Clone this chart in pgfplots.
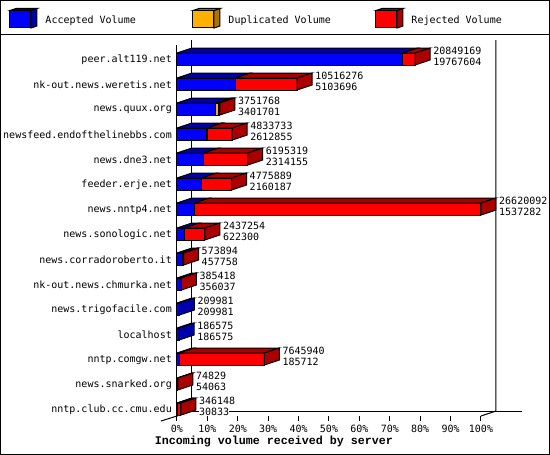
\documentclass[border=0pt]{standalone}
\usepackage{fontspec}
\usepackage{pgfplots}
\pgfplotsset{compat=1.18}
\setmainfont{DejaVu Sans Mono}
\newfontfamily\titlefont{Liberation Mono}

\definecolor{acc}{HTML}{0000FF}
\definecolor{accd}{HTML}{0000AA}
\definecolor{dup}{HTML}{FFB000}
\definecolor{dupd}{HTML}{AA7500}
\definecolor{rej}{HTML}{FF0000}
\definecolor{rejd}{HTML}{AA0000}

\newcommand\sz{\fontsize{10}{12}\selectfont}
% x is in MB, 1px = 26.620092/304 MB; bar depth is 15px right, 5px up
\def\dx{1.31349}
\def\dy{0.2}
\def\hh{0.24}

\newcommand\face[2]{%
  \edef\temp{\noexpand\addplot[draw=black,line width=1pt,line join=miter,fill=#1,mark=none,forget plot] coordinates {#2};}\temp}

% i, from, to, front colour, dark colour (bytes)
\newcommand\seg[5]{%
  \face{#5}{(\fpeval{#2/1e6},\fpeval{#1-\hh}) (\fpeval{#3/1e6},\fpeval{#1-\hh})
    (\fpeval{#3/1e6+\dx},\fpeval{#1-\hh-\dy}) (\fpeval{#2/1e6+\dx},\fpeval{#1-\hh-\dy}) (\fpeval{#2/1e6},\fpeval{#1-\hh})}%
  \face{#4}{(\fpeval{#2/1e6},\fpeval{#1-\hh}) (\fpeval{#3/1e6},\fpeval{#1-\hh})
    (\fpeval{#3/1e6},\fpeval{#1+\hh}) (\fpeval{#2/1e6},\fpeval{#1+\hh}) (\fpeval{#2/1e6},\fpeval{#1-\hh})}}

% end face of a bar: i, total, dark colour
\newcommand\sideface[3]{%
  \face{#3}{(\fpeval{#2/1e6},\fpeval{#1-\hh}) (\fpeval{#2/1e6+\dx},\fpeval{#1-\hh-\dy})
    (\fpeval{#2/1e6+\dx},\fpeval{#1+\hh-\dy}) (\fpeval{#2/1e6},\fpeval{#1+\hh}) (\fpeval{#2/1e6},\fpeval{#1-\hh})}}

% i, total, accepted, duplicated
\newcommand\server[4]{%
  \seg{#1}{0}{#3}{acc}{accd}%
  \ifnum#4>0 \seg{#1}{#3}{\the\numexpr#3+#4\relax}{dup}{dupd}\fi
  \ifnum\numexpr#2-#3-#4\relax>0
    \seg{#1}{\the\numexpr#3+#4\relax}{#2}{rej}{rejd}%
    \sideface{#1}{#2}{rejd}%
  \else
    \sideface{#1}{#2}{accd}%
  \fi
  \node[anchor=west,inner sep=0pt,fill=white,font=\sz] at (axis cs:\fpeval{#2/1e6+1.576},\fpeval{#1-0.32}) {#2};
  \node[anchor=west,inner sep=0pt,fill=white,font=\sz] at (axis cs:\fpeval{#2/1e6+1.576},\fpeval{#1+0.12}) {#3};}

% legend swatch, pixel coordinates
\newcommand\swatch[3]{%
  \filldraw[fill=#3] (#1+21,10.5) -- (#1+27,8.5) -- (#1+27,26) -- (#1+21,28) -- cycle;
  \filldraw[fill=#3] (#1,10.5) -- (#1+6,8.5) -- (#1+27,8.5) -- (#1+21,10.5) -- cycle;
  \filldraw[fill=#2] (#1,10.5) rectangle (#1+21,28);}

\begin{document}
\begin{tikzpicture}
\begin{axis}[
    scale only axis,
    width=304pt, height=371pt,
    xmin=0, xmax=26.620092,
    ymin=-0.56, ymax=14.28,
    y dir=reverse,
    clip=false,
    axis x line*=bottom,
    axis y line*=left,
    axis line style={-, line width=1pt, black},
    x axis line style={draw=none},
    tick align=outside,
    major tick length=5pt,
    xtick style={draw=black, line width=1pt},
    ytick style={draw=none},
    xtick={0,2.6620092,5.3240184,7.9860276,10.6480368,13.310046,15.9720552,18.6340644,21.2960736,23.9580828,26.620092},
    xticklabels={0\%,10\%,20\%,30\%,40\%,50\%,60\%,70\%,80\%,90\%,100\%},
    xticklabel style={font=\sz, inner sep=0pt, yshift=-4pt},
    ytick={0,...,14},
    yticklabels={peer.alt119.net,nk-out.news.weretis.net,news.quux.org,newsfeed.endofthelinebbs.com,news.dne3.net,feeder.erje.net,news.nntp4.net,news.sonologic.net,news.corradoroberto.it,nk-out.news.chmurka.net,news.trigofacile.com,localhost,nntp.comgw.net,news.snarked.org,nntp.club.cc.cmu.edu},
    yticklabel style={font=\sz, inner sep=0pt, yshift=-1pt},
    xlabel={Incoming volume received by server},
    xlabel style={at={(axis description cs:0.319,-0.0701)}, anchor=center, inner sep=0pt,
      font=\titlefont\bfseries\fontsize{11.67}{13}\selectfont},
]
% back wall and floor
\addplot[black, line width=1pt, mark=none, forget plot] coordinates {(1.31349,-0.76) (1.31349,14.08) (30.21,14.08)};
\addplot[black, line width=1pt, mark=none, forget plot] coordinates {(27.93359,-0.76) (27.93359,14.08) (26.620092,14.28)};
\addplot[black, line width=1pt, mark=none, forget plot] coordinates {(-1.401,14.48) (0,14.28) (1.31349,14.08)};

\server{0}{20849169}{19767604}{0}
\server{1}{10516276}{5103696}{0}
\server{2}{3751768}{3401701}{200000}
\server{3}{4833733}{2612855}{30000}
\server{4}{6195319}{2314155}{0}
\server{5}{4775889}{2160187}{0}
\server{6}{26620092}{1537282}{0}
\server{7}{2437254}{622300}{0}
\server{8}{573894}{457758}{0}
\server{9}{385418}{356037}{0}
\server{10}{209981}{209981}{0}
\server{11}{186575}{186575}{0}
\server{12}{7645940}{185712}{0}
\server{13}{74829}{54063}{0}
\server{14}{346148}{30833}{0}
\end{axis}

% frame and legend in image pixels
\begin{scope}[shift={(-177pt,416pt)}, x=1pt, y=-1pt, line width=1pt]
  \draw (0.5,0.5) rectangle (549.5,454.5);
  \draw (0,35) -- (550,35);
  \swatch{10}{acc}{accd}
  \swatch{193}{dup}{dupd}
  \swatch{376}{rej}{rejd}
  \node[anchor=west,inner sep=0pt,font=\sz] at (45,21) {Accepted Volume};
  \node[anchor=west,inner sep=0pt,font=\sz] at (228,21) {Duplicated Volume};
  \node[anchor=west,inner sep=0pt,font=\sz] at (411,21) {Rejected Volume};
  % page is exactly the 550x455 frame
  \pgfresetboundingbox
  \path[use as bounding box] (0,0) rectangle (550,455);
\end{scope}
\end{tikzpicture}
\end{document}
